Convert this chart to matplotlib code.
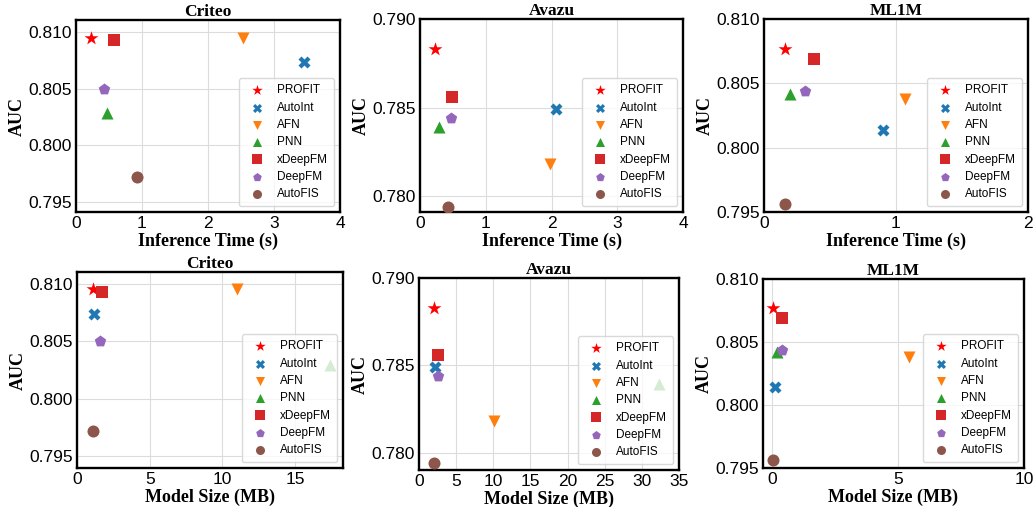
import matplotlib
matplotlib.use("Agg")
import matplotlib.pyplot as plt
import seaborn as sns

sns.set_style("whitegrid")
plt.rcParams['font.family'] = ['Liberation Sans', 'DejaVu Sans']

# ---------------- data ----------------
models = ["PROFIT", "AutoInt", "AFN", "PNN", "xDeepFM", "DeepFM", "AutoFIS"]
markers = ["*", "X", "v", "^", "s", "p", "o"]
colors = ["red", "tab:blue", "tab:orange", "tab:green", "tab:red", "tab:purple", "tab:brown"]

criteo_auc = [0.8095, 0.8074, 0.8095, 0.8029, 0.8093, 0.8050, 0.7972]
avazu_auc = [0.7883, 0.7849, 0.7818, 0.7839, 0.7856, 0.7844, 0.7794]
ml1m_auc = [0.8077, 0.8014, 0.8038, 0.8042, 0.8069, 0.8044, 0.7956]

criteo_time = [0.22, 3.45, 2.53, 0.47, 0.57, 0.43, 0.92]
avazu_time = [0.23, 2.07, 1.97, 0.29, 0.48, 0.47, 0.42]
ml1m_time = [0.16, 0.90, 1.07, 0.20, 0.38, 0.31, 0.16]

criteo_size = [1.1, 1.2, 11.0, 17.4, 1.7, 1.6, 1.1]
avazu_size = [2.0, 2.1, 10.1, 32.3, 2.5, 2.5, 2.0]
ml1m_size = [0.03, 0.1, 5.45, 0.2, 0.4, 0.4, 0.05]

W, H = 1034, 507
fig = plt.figure(figsize=(W / 100, H / 100), dpi=100)


def rect(l, r, t, b):
    return [l / W, 1 - b / H, (r - l) / W, (b - t) / H]


panels = [
    # (title, x, y, xlabel, xlim, xticks, ylim, yticks, box)
    ("Criteo", criteo_time, criteo_auc, "Inference Time (s)", (0, 4), [0, 1, 2, 3, 4],
     (0.7941, 0.8111), [0.795, 0.800, 0.805, 0.810], (76, 340, 20, 212)),
    ("Avazu", avazu_time, avazu_auc, "Inference Time (s)", (0, 4), [0, 1, 2, 3, 4],
     (0.7791, 0.790), [0.780, 0.785, 0.790], (420, 683, 19, 212)),
    ("ML1M", ml1m_time, ml1m_auc, "Inference Time (s)", (0, 2), [0, 1, 2],
     (0.795, 0.810), [0.795, 0.800, 0.805, 0.810], (764, 1028, 19, 212)),
    ("Criteo", criteo_size, criteo_auc, "Model Size (MB)", (0, 18.3), [0, 5, 10, 15],
     (0.7940, 0.8110), [0.795, 0.800, 0.805, 0.810], (77, 343, 272, 468)),
    ("Avazu", avazu_size, avazu_auc, "Model Size (MB)", (0, 35), [0, 5, 10, 15, 20, 25, 30, 35],
     (0.7790, 0.790), [0.780, 0.785, 0.790], (419, 679, 278, 470)),
    ("ML1M", ml1m_size, ml1m_auc, "Model Size (MB)", (-0.36, 10), [0, 5, 10],
     (0.795, 0.810), [0.795, 0.800, 0.805, 0.810], (763, 1024, 279, 468)),
]

serif_bold = dict(family=['Liberation Serif', 'DejaVu Serif'], weight='bold', color='black')

for title, xs, ys, xlabel, xlim, xticks, ylim, yticks, box in panels:
    ax = fig.add_axes(rect(*box))
    for i, m in enumerate(models):
        size = 110 if markers[i] == "*" else 75
        ax.scatter(xs[i], ys[i], marker=markers[i], color=colors[i], s=size,
                   label=m, zorder=3, linewidths=0)
    ax.set_xlim(*xlim)
    ax.set_ylim(*ylim)
    ax.set_xticks(xticks)
    ax.set_yticks(yticks)
    ax.set_yticklabels(["%.3f" % v for v in yticks])
    ax.tick_params(labelsize=12.5, length=0, pad=3, labelcolor="black")
    ax.set_title(title, fontsize=12.5, pad=3, **serif_bold)
    ax.set_xlabel(xlabel, fontsize=13, labelpad=1, **serif_bold)
    ax.set_ylabel("AUC", fontsize=13, labelpad=1.5, **serif_bold)
    for sp in ax.spines.values():
        sp.set_edgecolor("black")
        sp.set_linewidth(1.7)
    ax.grid(color="#dcdcdc", linewidth=0.8)
    leg = ax.legend(loc="lower right", fontsize=8.5, frameon=True, borderaxespad=0.5,
                    labelspacing=0.45, handletextpad=0.75, borderpad=0.5, markerscale=0.75)
    leg.get_frame().set_edgecolor("#d0d0d0")
    for t in leg.get_texts():
        t.set_color("black")
    leg.set_zorder(5)

fig.savefig("out.png", dpi=100)
